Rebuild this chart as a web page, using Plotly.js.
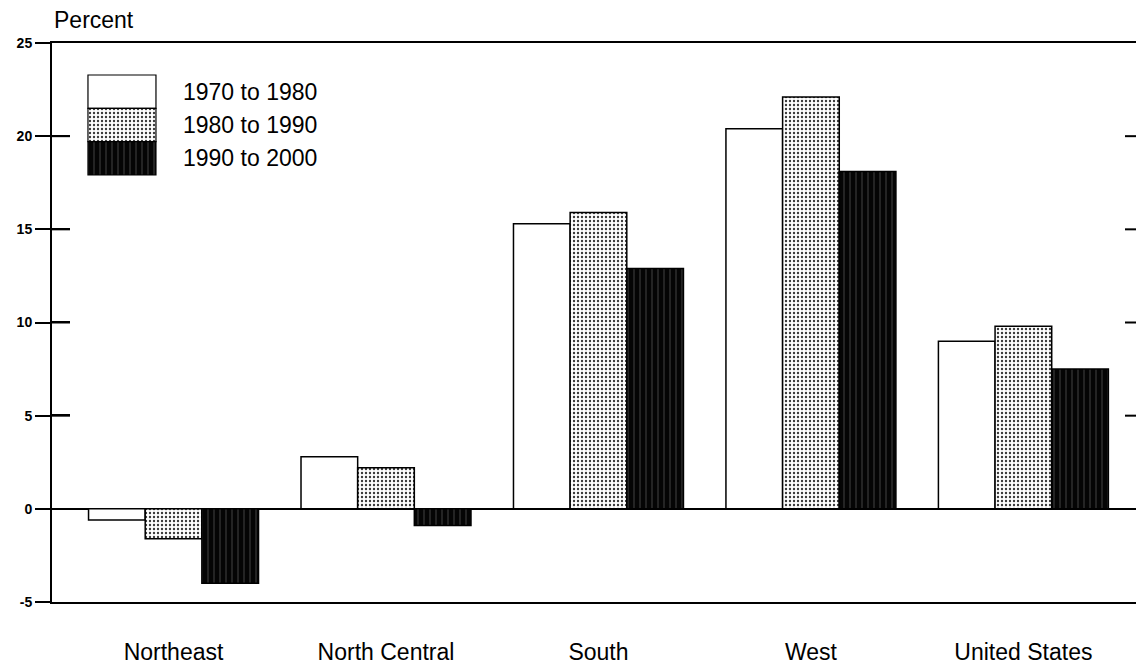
<!DOCTYPE html>
<html>
<head>
<meta charset="utf-8">
<script src="https://cdn.plot.ly/plotly-3.0.1.min.js"></script>
<style>
  html, body { margin: 0; padding: 0; background: #ffffff; }
  #chart { width: 1136px; height: 665px; }
</style>
</head>
<body>
<div id="chart"></div>
<script>
// ---- data ----
const regions = ["Northeast", "North Central", "South", "West", "United States"];
const seriesNames = ["1970 to 1980", "1980 to 1990", "1990 to 2000"];
const change1970to1980 = [-0.6, 2.8, 15.3, 20.4, 9.0];
const change1980to1990 = [-1.6, 2.2, 15.9, 22.1, 9.8];
const change1990to2000 = [-4.0, -0.9, 12.9, 18.1, 7.5];
const yTickValues = [-5, 0, 5, 10, 15, 20, 25];
const yAxisLabel = "Percent";

// ---- styles ----
const FONT = "Liberation Sans, Arial, Helvetica, sans-serif";
const styles = [
  { color: "#ffffff", pattern: { shape: "" } },
  { color: "#ffffff", pattern: { shape: ".", fgcolor: "#3a3a3a", bgcolor: "#ffffff", size: 4, solidity: 0.28 } },
  { color: "#0a0a0a", pattern: { shape: "|", fgcolor: "#050505", bgcolor: "#6a6a6a", size: 6, solidity: 0.9 } }
];
const seriesValues = [change1970to1980, change1980to1990, change1990to2000];

const traces = seriesValues.map((vals, i) => ({
  type: "bar",
  name: seriesNames[i],
  x: regions,
  y: vals,
  xaxis: "x",
  yaxis: "y",
  showlegend: false,
  hoverinfo: "skip",
  marker: {
    color: styles[i].color,
    pattern: styles[i].pattern,
    line: { color: "#000000", width: 1.5 }
  }
}));

// legend: a stacked swatch column drawn on hidden overlay axes (key units)
seriesNames.forEach((name, i) => {
  traces.push({
    type: "bar",
    name: name,
    x: [0],
    y: [1],
    base: [seriesNames.length - 1 - i],
    width: [1],
    offset: [-0.5],
    xaxis: "x2",
    yaxis: "y2",
    showlegend: false,
    hoverinfo: "skip",
    marker: {
      color: styles[i].color,
      pattern: styles[i].pattern,
      line: { color: "#000000", width: 1.2 }
    }
  });
});

const innerTicks = yTickValues.slice(2, -1); // 5, 10, 15, 20

const tickLine = { color: "#000000", width: 2 };
const tickShapes = [];
innerTicks.forEach(v => {
  // inner half of the crossing tick marks on the left axis
  tickShapes.push({ type: "line", xref: "paper", yref: "y", x0: 0, x1: 18 / 1084, y0: v, y1: v, line: tickLine, layer: "above" });
  // short inside tick marks on the right edge
  tickShapes.push({ type: "line", xref: "paper", yref: "y", x0: 1 - 11 / 1084, x1: 1, y0: v, y1: v, line: tickLine, layer: "above" });
});

const legendAnnotations = seriesNames.map((name, i) => ({
  text: name,
  xref: "x2", yref: "y2",
  x: 0.5, y: seriesNames.length - 1 - i + 0.5,
  xanchor: "left", yanchor: "middle",
  xshift: 25,
  showarrow: false,
  font: { family: FONT, size: 23, color: "#000000" }
}));

const layout = {
  width: 1136,
  height: 665,
  paper_bgcolor: "#ffffff",
  plot_bgcolor: "#ffffff",
  margin: { l: 52, r: 0, t: 43, b: 63, pad: 0 },
  barmode: "group",
  bargap: 0.2,
  bargroupgap: 0,
  showlegend: false,
  font: { family: FONT, color: "#000000" },
  xaxis: {
    type: "category",
    range: [-0.572, 4.53],
    showline: true,
    mirror: true,
    linecolor: "#000000",
    linewidth: 2,
    showgrid: false,
    zeroline: false,
    ticks: "outside",
    ticklen: 28,
    tickcolor: "rgba(0,0,0,0)",
    tickfont: { family: FONT, size: 23, color: "#000000" },
    fixedrange: true
  },
  yaxis: {
    range: [-5, 25],
    tickvals: yTickValues,
    ticktext: yTickValues.map(v => "<b>" + v + "</b>"),
    showline: true,
    linecolor: "#000000",
    linewidth: 2,
    showgrid: false,
    zeroline: true,
    zerolinecolor: "#000000",
    zerolinewidth: 2,
    ticks: "outside",
    ticklen: 15,
    tickwidth: 2,
    tickcolor: "#000000",
    tickfont: { family: FONT, size: 14, color: "#000000" },
    minor: {
      tickmode: "array",
      tickvals: innerTicks.map(v => v + 0.02),
      ticks: "inside",
      ticklen: 18,
      tickwidth: 2,
      tickcolor: "#000000",
      showgrid: false
    },
    fixedrange: true
  },
  // hidden overlay axes for the key: one key unit = one swatch
  xaxis2: {
    overlaying: "x",
    range: [-1.029, 14.912],
    visible: false,
    fixedrange: true
  },
  yaxis2: {
    overlaying: "y",
    range: [-12.81, 3.96],
    visible: false,
    fixedrange: true
  },
  shapes: tickShapes,
  annotations: [
    {
      text: yAxisLabel,
      xref: "paper", yref: "paper",
      x: 0, y: 1.041,
      xanchor: "left", yanchor: "middle",
      showarrow: false,
      font: { family: FONT, size: 23, color: "#000000" }
    }
  ].concat(legendAnnotations)
};

Plotly.newPlot("chart", traces, layout, { staticPlot: true, displayModeBar: false });
</script>
</body>
</html>
